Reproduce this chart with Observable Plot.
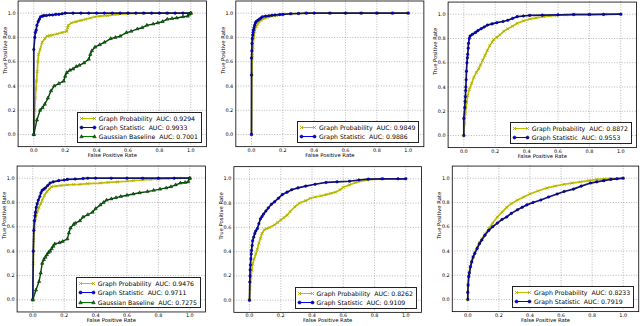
<!DOCTYPE html>
<html><head><meta charset="utf-8">
<script src="https://cdn.jsdelivr.net/npm/d3@7"></script>
<script src="https://cdn.jsdelivr.net/npm/@observablehq/plot@0.6"></script>
<style>
body{margin:0;background:#fff;}
#wrap{position:relative;width:640px;height:326px;overflow:hidden;background:#fff;font-family:"DejaVu Sans",sans-serif;}
.panel{position:absolute;}
.legend{position:absolute;border:0.8px solid #222;background:#fff;padding:0.5px 3px 0.5px 2px;font-size:6.2px;white-space:pre;color:#000;font-family:"DejaVu Sans",sans-serif;}
.legend .row{display:flex;align-items:center;height:9.4px;}
.legend svg{width:16px;height:9px;margin-right:3px;flex:none;overflow:visible}
</style></head><body><div id="wrap"></div>
<script>
// ---------- data (fpr, tpr) ----------
const tickValues = [0, 0.2, 0.4, 0.6, 0.8, 1.0];
const seriesNames = ["Graph Probability", "Graph Statistic", "Gaussian Baseline"];

// Panel 1 (top-left)
const p1Prob = [[0,0],[0.003,0.1],[0.006,0.2],[0.01,0.3],[0.014,0.38],[0.017,0.44],[0.022,0.52],[0.026,0.6],[0.03,0.66],[0.04,0.7],[0.053,0.76],[0.07,0.79],[0.085,0.81],[0.1,0.815],[0.12,0.82],[0.15,0.83],[0.18,0.84],[0.21,0.85],[0.215,0.88],[0.22,0.9],[0.24,0.92],[0.27,0.93],[0.3,0.94],[0.33,0.95],[0.36,0.96],[0.39,0.97],[0.42,0.975],[0.47,0.98],[0.53,0.99],[0.6,0.995],[0.7,1],[0.85,1],[1,1]];
const p1Stat = [[0,0],[0,0.7],[0.006,0.8],[0.01,0.84],[0.015,0.86],[0.02,0.9],[0.028,0.93],[0.035,0.95],[0.043,0.97],[0.055,0.975],[0.064,0.98],[0.08,0.98],[0.1,0.985],[0.12,0.985],[0.14,0.99],[0.16,0.99],[0.18,0.995],[0.2,1],[0.25,1],[0.3,1],[0.35,1],[0.4,1],[0.45,1],[0.5,1],[0.55,1],[0.6,1],[0.65,1],[0.7,1],[0.75,1],[0.8,1],[0.85,1],[0.9,1],[0.95,1],[1,1]];
const p1Gauss = [[0,0],[0.02,0.12],[0.04,0.2],[0.055,0.22],[0.07,0.25],[0.09,0.3],[0.11,0.36],[0.13,0.4],[0.16,0.42],[0.19,0.44],[0.2,0.48],[0.21,0.51],[0.23,0.53],[0.25,0.54],[0.27,0.56],[0.29,0.57],[0.32,0.59],[0.35,0.62],[0.36,0.66],[0.37,0.69],[0.39,0.72],[0.42,0.74],[0.45,0.76],[0.49,0.79],[0.52,0.8],[0.55,0.81],[0.59,0.84],[0.62,0.85],[0.66,0.87],[0.69,0.88],[0.72,0.9],[0.76,0.91],[0.79,0.92],[0.82,0.93],[0.85,0.95],[0.88,0.955],[0.91,0.96],[0.95,0.97],[0.98,0.975],[0.99,0.99],[1,1]];
const p1Auc = ["0.9294", "0.9933", "0.7001"];

// Panel 2 (top-middle)
const p2Prob = [[0,0],[0.003,0.5],[0.006,0.65],[0.01,0.72],[0.014,0.8],[0.02,0.85],[0.03,0.89],[0.04,0.91],[0.06,0.94],[0.08,0.955],[0.1,0.965],[0.13,0.975],[0.16,0.98],[0.2,0.99],[0.25,0.995],[0.3,0.997],[0.35,1],[0.5,1],[0.6,1],[0.7,1],[0.8,1],[0.9,1],[1,1]];
const p2Stat = [[0,0],[0,0.49],[0,0.63],[0.002,0.69],[0.003,0.75],[0.005,0.79],[0.008,0.82],[0.01,0.84],[0.012,0.86],[0.016,0.88],[0.02,0.9],[0.025,0.92],[0.03,0.93],[0.04,0.94],[0.05,0.95],[0.06,0.96],[0.07,0.97],[0.09,0.975],[0.11,0.978],[0.13,0.982],[0.15,0.985],[0.18,0.988],[0.2,0.99],[0.25,0.995],[0.3,0.997],[0.35,1],[0.4,1],[0.5,1],[0.6,1],[0.7,1],[0.8,1],[0.9,1],[1,1]];
const p2Auc = ["0.9849", "0.9886"];

// Panel 3 (top-right)
const p3Prob = [[0,0],[0.005,0.1],[0.01,0.18],[0.018,0.27],[0.025,0.33],[0.035,0.38],[0.05,0.43],[0.064,0.48],[0.08,0.52],[0.095,0.55],[0.106,0.58],[0.12,0.62],[0.135,0.66],[0.149,0.7],[0.165,0.74],[0.18,0.77],[0.19,0.79],[0.21,0.81],[0.23,0.83],[0.255,0.86],[0.28,0.88],[0.31,0.9],[0.34,0.925],[0.38,0.945],[0.42,0.96],[0.46,0.97],[0.51,0.98],[0.55,0.985],[0.59,0.99],[0.65,0.995],[0.7,1],[0.8,1],[0.9,1],[1,1]];
const p3Stat = [[0,0],[0,0.14],[0.006,0.23],[0.008,0.28],[0.01,0.32],[0.012,0.37],[0.013,0.4],[0.015,0.46],[0.017,0.53],[0.02,0.6],[0.023,0.64],[0.025,0.67],[0.028,0.72],[0.03,0.76],[0.035,0.8],[0.04,0.82],[0.055,0.835],[0.075,0.85],[0.09,0.865],[0.11,0.88],[0.13,0.895],[0.15,0.91],[0.18,0.92],[0.21,0.93],[0.25,0.94],[0.28,0.95],[0.31,0.965],[0.34,0.98],[0.38,0.985],[0.42,0.99],[0.5,0.992],[0.6,0.995],[0.7,0.997],[0.8,0.997],[0.89,0.998],[1,1]];
const p3Auc = ["0.8872", "0.9553"];

// Panel 4 (bottom-left)
const p4Prob = [[0,0],[0.003,0.3],[0.006,0.49],[0.01,0.58],[0.013,0.63],[0.018,0.67],[0.023,0.7],[0.03,0.73],[0.04,0.76],[0.05,0.79],[0.06,0.82],[0.075,0.86],[0.09,0.89],[0.105,0.91],[0.12,0.93],[0.15,0.935],[0.18,0.94],[0.22,0.945],[0.26,0.948],[0.3,0.95],[0.35,0.955],[0.43,0.96],[0.48,0.965],[0.54,0.97],[0.6,0.975],[0.64,0.98],[0.7,0.985],[0.75,0.99],[0.8,0.993],[0.86,0.997],[0.93,1],[1,1]];
const p4Stat = [[0,0],[0.003,0.4],[0.006,0.57],[0.01,0.65],[0.014,0.69],[0.017,0.72],[0.022,0.76],[0.028,0.79],[0.035,0.82],[0.045,0.85],[0.052,0.88],[0.06,0.9],[0.07,0.91],[0.08,0.92],[0.095,0.94],[0.11,0.96],[0.13,0.97],[0.165,0.98],[0.2,0.985],[0.22,0.99],[0.27,0.993],[0.32,0.997],[0.35,1],[0.4,1],[0.5,1],[0.6,1],[0.7,1],[0.8,1],[0.9,1],[1,1]];
const p4Gauss = [[0,0],[0.02,0.08],[0.04,0.15],[0.05,0.22],[0.06,0.3],[0.07,0.33],[0.08,0.35],[0.09,0.37],[0.1,0.39],[0.11,0.4],[0.12,0.42],[0.13,0.44],[0.14,0.46],[0.17,0.47],[0.19,0.48],[0.22,0.5],[0.23,0.55],[0.24,0.59],[0.26,0.62],[0.27,0.63],[0.3,0.65],[0.32,0.68],[0.35,0.7],[0.38,0.72],[0.4,0.75],[0.43,0.78],[0.45,0.8],[0.47,0.82],[0.5,0.83],[0.53,0.84],[0.56,0.85],[0.6,0.86],[0.64,0.87],[0.68,0.88],[0.73,0.89],[0.77,0.9],[0.81,0.91],[0.85,0.92],[0.88,0.93],[0.91,0.945],[0.94,0.96],[0.97,0.965],[0.99,0.97],[1,1]];
const p4Auc = ["0.9476", "0.9711", "0.7275"];

// Panel 5 (bottom-middle)
const p5Prob = [[0,0],[0.004,0.1],[0.009,0.19],[0.015,0.25],[0.02,0.3],[0.03,0.34],[0.04,0.38],[0.05,0.42],[0.06,0.47],[0.07,0.51],[0.08,0.55],[0.095,0.58],[0.11,0.59],[0.13,0.6],[0.16,0.62],[0.18,0.64],[0.2,0.66],[0.22,0.68],[0.24,0.7],[0.26,0.73],[0.29,0.77],[0.32,0.8],[0.36,0.82],[0.39,0.84],[0.42,0.85],[0.46,0.86],[0.49,0.87],[0.52,0.88],[0.55,0.89],[0.58,0.91],[0.6,0.93],[0.64,0.95],[0.68,0.97],[0.75,0.99],[0.85,1],[1,1]];
const p5Stat = [[0,0],[0.002,0.15],[0.003,0.2],[0.004,0.25],[0.006,0.29],[0.009,0.34],[0.011,0.38],[0.013,0.41],[0.017,0.45],[0.02,0.49],[0.027,0.52],[0.034,0.55],[0.04,0.57],[0.05,0.59],[0.06,0.63],[0.07,0.67],[0.08,0.69],[0.09,0.71],[0.105,0.735],[0.12,0.76],[0.14,0.79],[0.16,0.81],[0.185,0.84],[0.21,0.87],[0.24,0.89],[0.27,0.91],[0.31,0.925],[0.36,0.94],[0.42,0.955],[0.49,0.97],[0.56,0.975],[0.64,0.98],[0.7,0.99],[0.76,0.997],[0.85,1],[0.95,1],[1,1]];
const p5Auc = ["0.8262", "0.9109"];

// Panel 6 (bottom-right)
const p6Prob = [[0,0],[0,0.06],[0.002,0.12],[0.006,0.19],[0.01,0.22],[0.017,0.27],[0.025,0.31],[0.034,0.35],[0.045,0.39],[0.06,0.43],[0.075,0.47],[0.09,0.5],[0.11,0.54],[0.135,0.585],[0.16,0.63],[0.19,0.68],[0.22,0.72],[0.25,0.76],[0.28,0.79],[0.32,0.82],[0.36,0.845],[0.4,0.87],[0.45,0.895],[0.51,0.92],[0.56,0.935],[0.62,0.95],[0.67,0.96],[0.725,0.97],[0.78,0.98],[0.83,0.99],[0.88,0.995],[0.92,0.997],[1,1]];
const p6Stat = [[0,0],[0,0.06],[0.002,0.12],[0.006,0.19],[0.01,0.22],[0.017,0.27],[0.025,0.31],[0.034,0.35],[0.045,0.38],[0.06,0.42],[0.075,0.46],[0.09,0.49],[0.11,0.53],[0.135,0.57],[0.16,0.6],[0.19,0.63],[0.22,0.66],[0.25,0.68],[0.28,0.71],[0.32,0.74],[0.35,0.76],[0.38,0.78],[0.42,0.8],[0.47,0.82],[0.52,0.845],[0.575,0.87],[0.62,0.89],[0.68,0.91],[0.73,0.935],[0.79,0.96],[0.83,0.97],[0.875,0.98],[0.92,0.99],[0.96,0.995],[1,1]];
const p6Auc = ["0.8233", "0.7919"];

// ---------- layout & style ----------
const styles = [
  {color: "#bfbf00", line: "#bfbf00", lw: 1.7, symbol: "times", fill: "none", stroke: "#a8a800", r: 1.5, sw: 0.7},
  {color: "#0000ff", line: "#14146a", lw: 1.7, symbol: "circle", fill: "#0000ff", stroke: "#000", r: 1.3, sw: 0.4},
  {color: "#008000", line: "#0a4a0a", lw: 1.4, symbol: "triangle", fill: "#008000", stroke: "#000", r: 1.3, sw: 0.4}
];
// page pixel positions of fpr=0 / fpr=1 and tpr=1 / tpr=0 for each panel
const panels = [
  {left: 0,   top: 0,   w: 215, h: 163, x0: 33.3,  x1: 190.3, y1: 12.3,  y0: 134,   series: [p1Prob, p1Stat, p1Gauss], auc: p1Auc},
  {left: 215, top: 0,   w: 215, h: 163, x0: 251,   x1: 407.7, y1: 12.3,  y0: 134,   series: [p2Prob, p2Stat], auc: p2Auc},
  {left: 430, top: 0,   w: 210, h: 163, x0: 463.3, x1: 620.3, y1: 13.7,  y0: 135,   series: [p3Prob, p3Stat], auc: p3Auc},
  {left: 0,   top: 163, w: 215, h: 163, x0: 32.3,  x1: 189.3, y1: 177.7, y0: 299.3, series: [p4Prob, p4Stat, p4Gauss], auc: p4Auc},
  {left: 215, top: 163, w: 215, h: 163, x0: 249,   x1: 405.3, y1: 178.3, y0: 299.7, series: [p5Prob, p5Stat], auc: p5Auc},
  {left: 430, top: 163, w: 210, h: 163, x0: 467.3, x1: 622.7, y1: 177.7, y0: 299,   series: [p6Prob, p6Stat], auc: p6Auc}
];

const wrap = document.getElementById("wrap");
const fmt = d3.format(".1f");

function sampleSvg(st) {
  const mk = (cx) => {
    if (st.symbol === "times") return `<path d="M${cx-1.6},2.9L${cx+1.6},6.1M${cx-1.6},6.1L${cx+1.6},2.9" stroke="${st.stroke}" stroke-width="0.8"/>`;
    if (st.symbol === "circle") return `<circle cx="${cx}" cy="4.5" r="1.6" fill="${st.fill}" stroke="#000" stroke-width="0.45"/>`;
    return `<path d="M${cx},2.6L${cx+1.8},5.8L${cx-1.8},5.8Z" fill="${st.fill}" stroke="#000" stroke-width="0.45"/>`;
  };
  return `<svg viewBox="0 0 16 9"><line x1="1.5" y1="4.5" x2="14.5" y2="4.5" stroke="${st.color}" stroke-width="1"/>${mk(1.5)}${mk(14.5)}</svg>`;
}

panels.forEach(p => {
  const sx = p.x1 - p.x0, sy = p.y0 - p.y1;
  const fl = p.x0 - 0.1 * sx, fr = p.x1 + 0.1 * sx;
  const ft = Math.max(p.top + 0.5, p.y1 - 0.1 * sy), fb = p.y0 + 0.1 * sy;
  const marks = [
    Plot.ruleX(tickValues, {x: d => d, stroke: "#888", strokeWidth: 0.6, strokeDasharray: "1,1.6"}),
    Plot.ruleY(tickValues, {y: d => d, stroke: "#888", strokeWidth: 0.6, strokeDasharray: "1,1.6"})
  ];
  p.series.forEach((data, i) => {
    const st = styles[i];
    marks.push(Plot.line(data, {x: d => d[0], y: d => d[1], stroke: st.line, strokeWidth: st.lw}));
    marks.push(Plot.dot(data, {x: d => d[0], y: d => d[1], symbol: st.symbol, r: st.r, fill: st.fill, stroke: st.stroke, strokeWidth: st.sw}));
  });
  marks.push(Plot.frame({stroke: "#000", strokeWidth: 0.8}));
  marks.push(Plot.text(["False Positive Rate"], {text: d => d, frameAnchor: "bottom", dy: 10, fontSize: 5.3, fill: "#000"}));
  marks.push(Plot.text(["True Positive Rate"], {text: d => d, frameAnchor: "left", dx: -12.5, rotate: -90, fontSize: 5.3, fill: "#000"}));

  const chart = Plot.plot({
    width: p.w, height: p.h,
    marginLeft: fl - p.left, marginRight: p.left + p.w - fr,
    marginTop: ft - p.top, marginBottom: p.top + p.h - fb,
    x: {domain: [-0.1, 1.1], ticks: tickValues, tickFormat: fmt, tickSize: 0, tickPadding: 1.6, label: null},
    y: {domain: [-0.1, 1.1], ticks: tickValues, tickFormat: fmt, tickSize: 0, tickPadding: 2.6, label: null},
    style: {fontFamily: "DejaVu Sans", fontSize: "4.9px", background: "transparent", color: "#000", overflow: "visible"},
    marks
  });
  chart.classList.add("panel");
  chart.style.left = p.left + "px";
  chart.style.top = p.top + "px";
  wrap.appendChild(chart);

  const lg = document.createElement("div");
  lg.className = "legend";
  lg.style.right = (640 - (fr - 4)) + "px";
  lg.style.bottom = (326 - (fb - 3)) + "px";
  lg.innerHTML = p.series.map((_, i) =>
    `<div class="row">${sampleSvg(styles[i])}<span>${seriesNames[i]}  AUC: ${p.auc[i]}</span></div>`).join("");
  wrap.appendChild(lg);
});
</script></body></html>
